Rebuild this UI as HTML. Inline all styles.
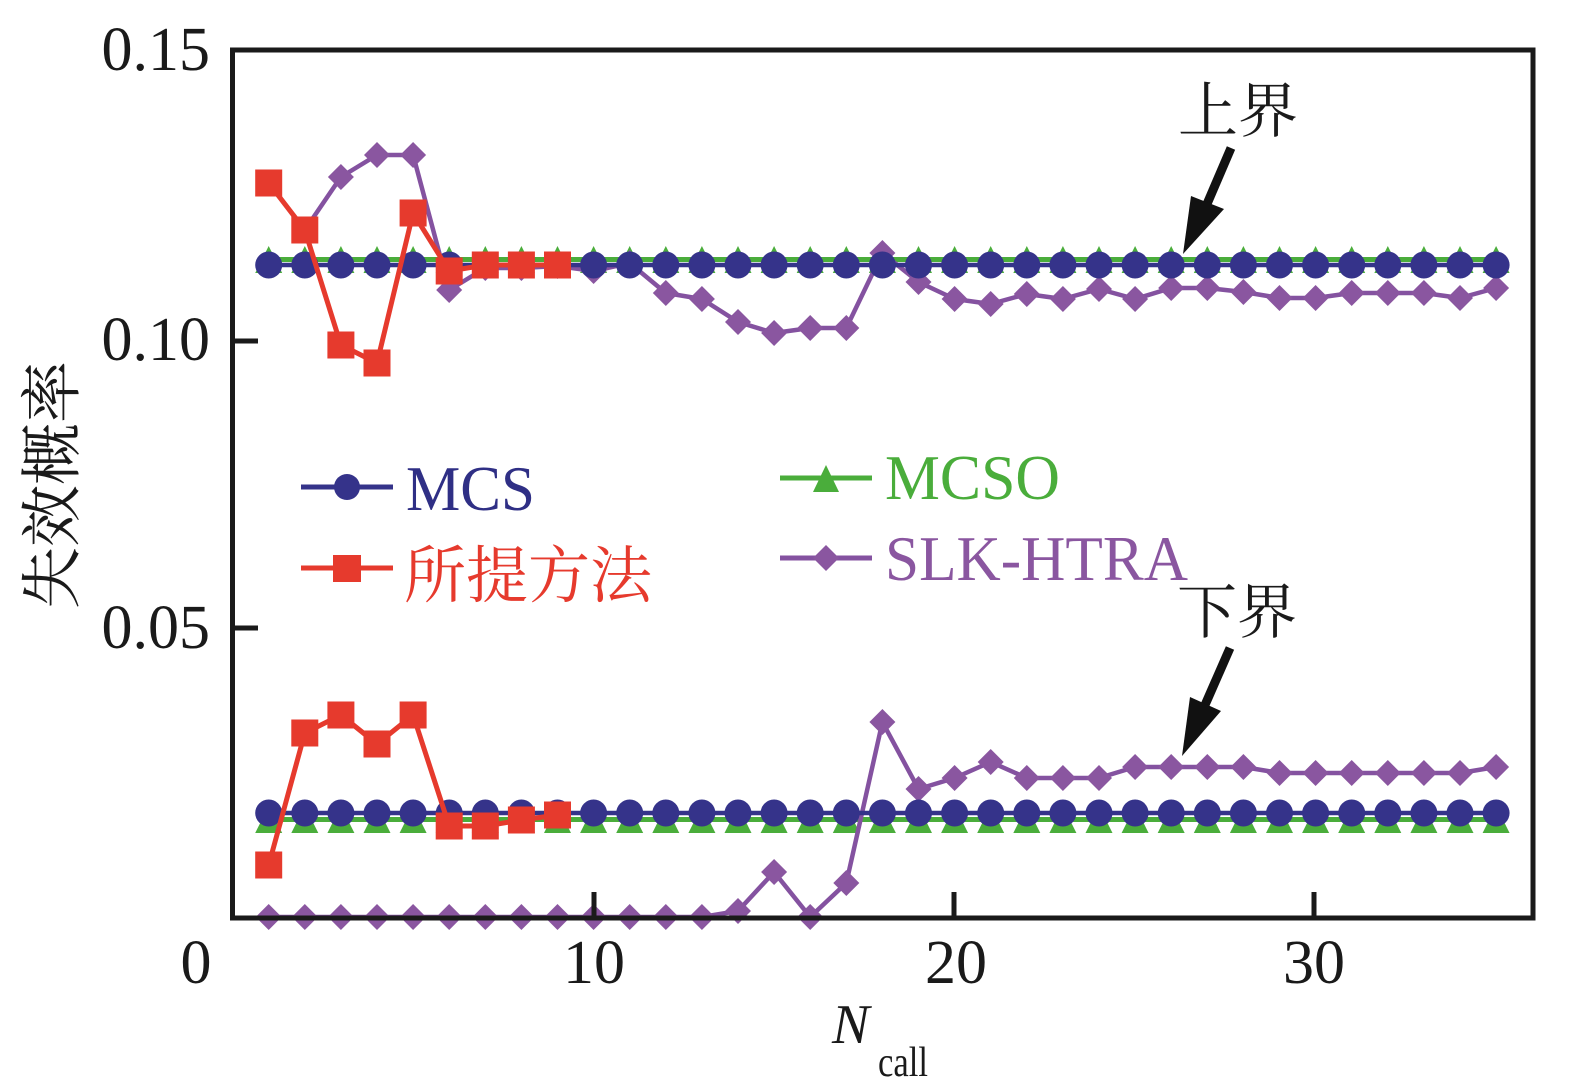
<!DOCTYPE html>
<html><head><meta charset="utf-8"><style>
html,body{margin:0;padding:0;background:#fff;}
svg{display:block;}
.lat{font-family:"Liberation Serif","Noto Serif CJK SC",serif;}
.cjk{font-family:"Liberation Serif","Noto Serif CJK SC","Noto Sans CJK SC",serif;}
</style></head><body>
<svg width="1570" height="1081" viewBox="0 0 1570 1081" xmlns="http://www.w3.org/2000/svg">
<defs>
<circle id="c" cx="0" cy="0" r="13.5" fill="#35338a"/>
<path id="t" d="M0,-13.5 L13.5,13.5 L-13.5,13.5 Z" fill="#4aad3b"/>
<path id="d" d="M0,-13 L13,0 L0,13 L-13,0 Z" fill="#8a56a0"/>
<rect id="s" x="-13.5" y="-13.5" width="27" height="27" fill="#e63a2d"/>
</defs>
<rect width="1570" height="1081" fill="#fff"/>

<!-- MCSO (green) -->
<g>
<line x1="268.7" y1="259.5" x2="1496.1" y2="259.5" stroke="#4aad3b" stroke-width="5"/>
<line x1="268.7" y1="819.5" x2="1496.1" y2="819.5" stroke="#4aad3b" stroke-width="5"/>
<g id="trow1">
<use href="#t" x="268.7" y="259.5"/><use href="#t" x="304.8" y="259.5"/><use href="#t" x="340.9" y="259.5"/><use href="#t" x="377.0" y="259.5"/><use href="#t" x="413.1" y="259.5"/><use href="#t" x="449.2" y="259.5"/><use href="#t" x="485.3" y="259.5"/><use href="#t" x="521.4" y="259.5"/><use href="#t" x="557.5" y="259.5"/><use href="#t" x="593.6" y="259.5"/><use href="#t" x="629.7" y="259.5"/><use href="#t" x="665.8" y="259.5"/><use href="#t" x="701.9" y="259.5"/><use href="#t" x="738.0" y="259.5"/><use href="#t" x="774.1" y="259.5"/><use href="#t" x="810.2" y="259.5"/><use href="#t" x="846.3" y="259.5"/><use href="#t" x="882.4" y="259.5"/><use href="#t" x="918.5" y="259.5"/><use href="#t" x="954.6" y="259.5"/><use href="#t" x="990.7" y="259.5"/><use href="#t" x="1026.8" y="259.5"/><use href="#t" x="1062.9" y="259.5"/><use href="#t" x="1099.0" y="259.5"/><use href="#t" x="1135.1" y="259.5"/><use href="#t" x="1171.2" y="259.5"/><use href="#t" x="1207.3" y="259.5"/><use href="#t" x="1243.4" y="259.5"/><use href="#t" x="1279.5" y="259.5"/><use href="#t" x="1315.6" y="259.5"/><use href="#t" x="1351.7" y="259.5"/><use href="#t" x="1387.8" y="259.5"/><use href="#t" x="1423.9" y="259.5"/><use href="#t" x="1460.0" y="259.5"/><use href="#t" x="1496.1" y="259.5"/>
</g>
<use href="#trow1" x="0" y="560"/>
</g>

<!-- SLK-HTRA (purple) -->
<g>
<polyline fill="none" stroke="#8452a0" stroke-width="4.5" stroke-linejoin="round" points="268.7,183 304.8,230 340.9,177 377.0,155 413.1,155 449.2,290 485.3,268 521.4,268 557.5,266 593.6,271 629.7,263 665.8,293 701.9,299 738.0,322 774.1,333 810.2,328 846.3,328 882.4,253 918.5,282 954.6,299 990.7,304 1026.8,294 1062.9,299 1099.0,289 1135.1,299 1171.2,288 1207.3,288 1243.4,292 1279.5,298 1315.6,298 1351.7,293 1387.8,293 1423.9,293 1460.0,298 1496.1,288"/>
<use href="#d" x="268.7" y="183"/><use href="#d" x="304.8" y="230"/><use href="#d" x="340.9" y="177"/><use href="#d" x="377.0" y="155"/><use href="#d" x="413.1" y="155"/><use href="#d" x="449.2" y="290"/><use href="#d" x="485.3" y="268"/><use href="#d" x="521.4" y="268"/><use href="#d" x="557.5" y="266"/><use href="#d" x="593.6" y="271"/><use href="#d" x="629.7" y="263"/><use href="#d" x="665.8" y="293"/><use href="#d" x="701.9" y="299"/><use href="#d" x="738.0" y="322"/><use href="#d" x="774.1" y="333"/><use href="#d" x="810.2" y="328"/><use href="#d" x="846.3" y="328"/><use href="#d" x="882.4" y="253"/><use href="#d" x="918.5" y="282"/><use href="#d" x="954.6" y="299"/><use href="#d" x="990.7" y="304"/><use href="#d" x="1026.8" y="294"/><use href="#d" x="1062.9" y="299"/><use href="#d" x="1099.0" y="289"/><use href="#d" x="1135.1" y="299"/><use href="#d" x="1171.2" y="288"/><use href="#d" x="1207.3" y="288"/><use href="#d" x="1243.4" y="292"/><use href="#d" x="1279.5" y="298"/><use href="#d" x="1315.6" y="298"/><use href="#d" x="1351.7" y="293"/><use href="#d" x="1387.8" y="293"/><use href="#d" x="1423.9" y="293"/><use href="#d" x="1460.0" y="298"/><use href="#d" x="1496.1" y="288"/>

<polyline fill="none" stroke="#8452a0" stroke-width="4.5" stroke-linejoin="round" points="268.7,917 304.8,917 340.9,917 377.0,917 413.1,917 449.2,917 485.3,917 521.4,917 557.5,917 593.6,917 629.7,917 665.8,917 701.9,917 738.0,911 774.1,872 810.2,917 846.3,883 882.4,722 918.5,789 954.6,778 990.7,762 1026.8,778 1062.9,778 1099.0,778 1135.1,767 1171.2,767 1207.3,767 1243.4,767 1279.5,773 1315.6,773 1351.7,773 1387.8,773 1423.9,773 1460.0,773 1496.1,767"/>
<use href="#d" x="268.7" y="917"/><use href="#d" x="304.8" y="917"/><use href="#d" x="340.9" y="917"/><use href="#d" x="377.0" y="917"/><use href="#d" x="413.1" y="917"/><use href="#d" x="449.2" y="917"/><use href="#d" x="485.3" y="917"/><use href="#d" x="521.4" y="917"/><use href="#d" x="557.5" y="917"/><use href="#d" x="593.6" y="917"/><use href="#d" x="629.7" y="917"/><use href="#d" x="665.8" y="917"/><use href="#d" x="701.9" y="917"/><use href="#d" x="738.0" y="911"/><use href="#d" x="774.1" y="872"/><use href="#d" x="810.2" y="917"/><use href="#d" x="846.3" y="883"/><use href="#d" x="882.4" y="722"/><use href="#d" x="918.5" y="789"/><use href="#d" x="954.6" y="778"/><use href="#d" x="990.7" y="762"/><use href="#d" x="1026.8" y="778"/><use href="#d" x="1062.9" y="778"/><use href="#d" x="1099.0" y="778"/><use href="#d" x="1135.1" y="767"/><use href="#d" x="1171.2" y="767"/><use href="#d" x="1207.3" y="767"/><use href="#d" x="1243.4" y="767"/><use href="#d" x="1279.5" y="773"/><use href="#d" x="1315.6" y="773"/><use href="#d" x="1351.7" y="773"/><use href="#d" x="1387.8" y="773"/><use href="#d" x="1423.9" y="773"/><use href="#d" x="1460.0" y="773"/><use href="#d" x="1496.1" y="767"/>
</g>

<!-- MCS (navy) -->
<g>
<line x1="268.7" y1="265" x2="1496.1" y2="265" stroke="#35338a" stroke-width="4.5"/>
<line x1="268.7" y1="813" x2="1496.1" y2="813" stroke="#35338a" stroke-width="4.5"/>
<g id="crow1">
<use href="#c" x="268.7" y="265"/><use href="#c" x="304.8" y="265"/><use href="#c" x="340.9" y="265"/><use href="#c" x="377.0" y="265"/><use href="#c" x="413.1" y="265"/><use href="#c" x="449.2" y="265"/><use href="#c" x="485.3" y="265"/><use href="#c" x="521.4" y="265"/><use href="#c" x="557.5" y="265"/><use href="#c" x="593.6" y="265"/><use href="#c" x="629.7" y="265"/><use href="#c" x="665.8" y="265"/><use href="#c" x="701.9" y="265"/><use href="#c" x="738.0" y="265"/><use href="#c" x="774.1" y="265"/><use href="#c" x="810.2" y="265"/><use href="#c" x="846.3" y="265"/><use href="#c" x="882.4" y="265"/><use href="#c" x="918.5" y="265"/><use href="#c" x="954.6" y="265"/><use href="#c" x="990.7" y="265"/><use href="#c" x="1026.8" y="265"/><use href="#c" x="1062.9" y="265"/><use href="#c" x="1099.0" y="265"/><use href="#c" x="1135.1" y="265"/><use href="#c" x="1171.2" y="265"/><use href="#c" x="1207.3" y="265"/><use href="#c" x="1243.4" y="265"/><use href="#c" x="1279.5" y="265"/><use href="#c" x="1315.6" y="265"/><use href="#c" x="1351.7" y="265"/><use href="#c" x="1387.8" y="265"/><use href="#c" x="1423.9" y="265"/><use href="#c" x="1460.0" y="265"/><use href="#c" x="1496.1" y="265"/>
</g>
<use href="#crow1" x="0" y="548"/>
</g>

<!-- Proposed method (red) -->
<g>
<polyline fill="none" stroke="#e63a2d" stroke-width="5" stroke-linejoin="round" points="268.7,183 304.8,230 340.9,345 377.0,363 413.1,213 449.2,271 485.3,265 521.4,265 557.5,265"/>
<use href="#s" x="268.7" y="183"/><use href="#s" x="304.8" y="230"/><use href="#s" x="340.9" y="345"/><use href="#s" x="377.0" y="363"/><use href="#s" x="413.1" y="213"/><use href="#s" x="449.2" y="271"/><use href="#s" x="485.3" y="265"/><use href="#s" x="521.4" y="265"/><use href="#s" x="557.5" y="265"/>
<polyline fill="none" stroke="#e63a2d" stroke-width="5" stroke-linejoin="round" points="268.7,865 304.8,733 340.9,715 377.0,744 413.1,715 449.2,826 485.3,826 521.4,820 557.5,815"/>
<use href="#s" x="268.7" y="865"/><use href="#s" x="304.8" y="733"/><use href="#s" x="340.9" y="715"/><use href="#s" x="377.0" y="744"/><use href="#s" x="413.1" y="715"/><use href="#s" x="449.2" y="826"/><use href="#s" x="485.3" y="826"/><use href="#s" x="521.4" y="820"/><use href="#s" x="557.5" y="815"/>
</g>

<!-- Frame and ticks -->
<rect x="232.5" y="50" width="1300.5" height="868" fill="none" stroke="#1a1a1a" stroke-width="5"/>
<line x1="232" y1="341" x2="258" y2="341" stroke="#1a1a1a" stroke-width="5"/>
<line x1="232" y1="628" x2="258" y2="628" stroke="#1a1a1a" stroke-width="5"/>
<line x1="594" y1="918" x2="594" y2="892" stroke="#1a1a1a" stroke-width="5"/>
<line x1="954" y1="918" x2="954" y2="892" stroke="#1a1a1a" stroke-width="5"/>
<line x1="1314" y1="918" x2="1314" y2="892" stroke="#1a1a1a" stroke-width="5"/>

<!-- Tick labels -->
<g class="lat" font-size="62" fill="#1a1a1a">
<text x="210" y="70" text-anchor="end">0.15</text>
<text x="210" y="360" text-anchor="end">0.10</text>
<text x="210" y="648" text-anchor="end">0.05</text>
<text x="196" y="983" text-anchor="middle">0</text>
<text x="594" y="983" text-anchor="middle">10</text>
<text x="956" y="983" text-anchor="middle">20</text>
<text x="1314" y="983" text-anchor="middle">30</text>
</g>

<!-- Axis titles -->
<text class="lat" x="832" y="1043" font-size="56" font-style="italic" fill="#1a1a1a">N</text>
<text class="lat" x="878" y="1076" font-size="42" fill="#1a1a1a" textLength="50" lengthAdjust="spacingAndGlyphs">call</text>
<text class="cjk" transform="translate(50,485) rotate(-90)" x="0" y="23.5" font-size="62" text-anchor="middle" fill="#1a1a1a">失效概率</text>

<!-- Legend -->
<line x1="301" y1="487" x2="393" y2="487" stroke="#35338a" stroke-width="5"/>
<circle cx="347" cy="487" r="13" fill="#35338a"/>
<text class="lat" x="406" y="510" font-size="63" fill="#2f2f85" textLength="129" lengthAdjust="spacingAndGlyphs">MCS</text>

<line x1="301" y1="568" x2="393" y2="568" stroke="#e63a2d" stroke-width="5"/>
<rect x="333" y="555" width="28" height="27" fill="#e63a2d"/>
<text class="cjk" x="404" y="597" font-size="62" fill="#e63a2d">所提方法</text>

<line x1="780" y1="478" x2="872" y2="478" stroke="#4aad3b" stroke-width="5"/>
<path d="M826,465 L839,492 L813,492 Z" fill="#4aad3b"/>
<text class="lat" x="885" y="499" font-size="63" fill="#4aad3b" textLength="175" lengthAdjust="spacingAndGlyphs">MCSO</text>

<line x1="780" y1="558" x2="872" y2="558" stroke="#8452a0" stroke-width="5"/>
<path d="M826,545 L839,558 L826,571 L813,558 Z" fill="#8a56a0"/>
<text class="lat" x="885" y="580" font-size="63" fill="#8a56a0" textLength="303" lengthAdjust="spacingAndGlyphs">SLK-HTRA</text>

<!-- Annotations -->
<text class="cjk" x="1178" y="132" font-size="60" fill="#1a1a1a">上界</text>
<line x1="1231" y1="148" x2="1207" y2="204" stroke="#111" stroke-width="9"/>
<path d="M1191,196 L1224,209 L1183,254 Z" fill="#111"/>

<text class="cjk" x="1177" y="633" font-size="60" fill="#1a1a1a">下界</text>
<line x1="1230" y1="648" x2="1205" y2="705" stroke="#111" stroke-width="9"/>
<path d="M1190,697 L1221,711 L1182,756 Z" fill="#111"/>
</svg>
</body></html>
